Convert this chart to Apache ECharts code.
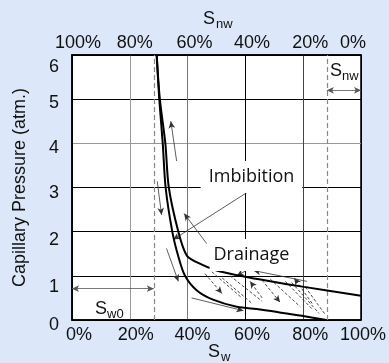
<!DOCTYPE html>
<html><head><meta charset="utf-8">
<script src="https://cdn.jsdelivr.net/npm/echarts@6/dist/echarts.min.js"></script>
<style>html,body{margin:0;padding:0;background:#dce8fa;}#c{width:389px;height:363px;}</style>
</head><body><div id="c"></div>
<script>
// ---- data ----
const swTicks = [0, 20, 40, 60, 80, 100];
const snwTicks = [100, 80, 60, 40, 20, 0];
const pcTicks = [0, 1, 2, 3, 4, 5, 6];
const drainageSw = [29.3, 30.4, 32.3, 33.5, 36.8, 39.7, 43.1, 50.1, 58.1, 68.6, 80.3, 100];
const drainagePc = [6, 5, 4, 3, 2, 1.46, 1.31, 1.12, 1.0, 0.875, 0.75, 0.55];
const imbibitionSw = [29.3, 30.2, 31.4, 32.4, 34.7, 36.7, 39.1, 43.1, 48.8, 57.0, 65.1, 79.0, 88.0];
const imbibitionPc = [6, 5, 4, 3, 2, 1.46, 1.0, 0.675, 0.46, 0.3, 0.24, 0.1, 0];
const swLimits = [28.3, 88.2];            // Sw0 (irreducible) and 1 - Snw
const sw0Arrow = [[0, 0.71], [28.3, 0.71]];
const snwArrow = [[88.2, 5.2], [100, 5.2]];
const pathArrows = [
  [[36.2, 3.6], [34.2, 4.5]],
  [[29.5, 3.14], [31.0, 2.38]],
  [[32.7, 1.62], [36.8, 0.875]],
  [[41.4, 0.5], [59.3, 0.21]],
  [[81.3, 0.875], [62.8, 1.12]]
];
const pointerArrows = [
  [[61.6, 2.93], [35.0, 1.82]],
  [[46.6, 1.73], [38.8, 2.41]],
  [[63.9, 1.25], [57.0, 1.0]]
];
const scanLines = [
  [[48.4, 1.09], [58.8, 0.5]],
  [[52.0, 0.95], [62.3, 0.375]],
  [[54.7, 1.0], [65.8, 0.425]],
  [[68.6, 0.925], [79.0, 0.3]],
  [[73.8, 0.875], [83.1, 0.25]],
  [[76.0, 0.85], [85.5, 0.15]],
  [[80.7, 0.75], [87.6, 0.125]]
];
const scanArrows = [
  [[46.0, 1.05], [51.9, 0.6]],
  [[65.8, 0.5], [61.6, 0.875]],
  [[65.8, 0.9], [72.0, 0.4]],
  [[83.1, 0.375], [76.9, 0.95]]
];
const labelImbibition = 'Imbibition';
const labelDrainage = 'Drainage';
const yTitle = 'Capillary Pressure (atm.)';

// ---- chart ----
const TF = '"Liberation Sans", Arial, sans-serif';
const pairs = (xs, ys) => xs.map((x, i) => [x, ys[i]]);
const segs = s => s.map(p => [{coord: p[0]}, {coord: p[1]}]);
function markSeries(segments, symbols, dashed, width, color) {
  return {
    type: 'line', data: [], silent: true, symbol: 'none', animation: false,
    markLine: {
      silent: true, animation: false, symbol: symbols, symbolSize: [5, 7],
      label: {show: false}, emphasis: {disabled: true},
      lineStyle: {color: color, width: width, type: dashed ? [3, 2] : 'solid'},
      data: segs(segments)
    }
  };
}
const botPad = {0: [0,0,0,14], 20: [0,0,0,12], 40: [0,0,0,10], 60: [0,0,0,13], 80: [0,0,0,14], 100: [0,0,0,4]};
const topPad = {100: [0,0,0,12], 80: [0,0,0,10], 60: [0,0,0,14], 40: [0,0,0,13], 20: [0,0,0,14], 0: [0,16,0,0]};
const yPad = {6: [24,0,0,0], 5: [8,0,0,0], 4: [10,0,0,0], 3: [11,0,0,0], 2: [16,0,0,0], 1: [22,0,0,0], 0: [10,0,0,0]};
const richOf = (ticks, pad) => {
  const r = {};
  ticks.forEach(t => { r['p' + t] = {fontFamily: TF, fontSize: 18, color: '#111', padding: pad[t]}; });
  return r;
};

const chart = echarts.init(document.getElementById('c'));
chart.setOption({
  animation: false,
  backgroundColor: '#dce8fa',
  grid: {left: 72, right: 28, top: 55, bottom: 43, show: true, backgroundColor: '#fff', borderColor: '#000', borderWidth: 1.5},
  xAxis: [{
    type: 'value', min: 0, max: 100, interval: 20, position: 'bottom',
    axisLine: {show: true, lineStyle: {color: '#000', width: 1.5}}, axisTick: {show: false},
    axisLabel: {margin: 6, showMinLabel: true, showMaxLabel: true,
      formatter: v => '{p' + v + '|' + v + '%}', rich: richOf(swTicks, botPad)},
    splitLine: {show: true, lineStyle: {color: ['#000', '#999', '#777', '#000', '#444', '#000'], width: 1}}
  }, {
    type: 'value', min: 0, max: 100, interval: 20, position: 'top', inverse: true,
    axisLine: {show: true, lineStyle: {color: '#000', width: 1.5}}, axisTick: {show: false},
    axisLabel: {margin: 3, showMinLabel: true, showMaxLabel: true,
      formatter: v => '{p' + v + '|' + v + '%}', rich: richOf(snwTicks, topPad)},
    splitLine: {show: false}
  }],
  yAxis: {
    type: 'value', min: 0, max: 6, interval: 1,
    name: yTitle, nameLocation: 'middle', nameGap: 43,
    nameTextStyle: {fontFamily: TF, fontSize: 18, color: '#111'},
    axisLine: {show: true, lineStyle: {color: '#000', width: 1.5}}, axisTick: {show: false},
    axisLabel: {margin: 13, formatter: v => '{p' + v + '|' + v + '}', rich: richOf(pcTicks, yPad)},
    splitLine: {show: true, lineStyle: {color: ['#000', '#000', '#000', '#000', '#999', '#000', '#000'], width: 1}}
  },
  series: [
    {type: 'line', name: 'Drainage', data: pairs(drainageSw, drainagePc), smooth: 0.3, symbol: 'none',
      lineStyle: {color: '#000', width: 2}, silent: true, z: 5},
    {type: 'line', name: 'Imbibition', data: pairs(imbibitionSw, imbibitionPc), smooth: 0.3, symbol: 'none',
      lineStyle: {color: '#000', width: 2}, silent: true, z: 5},
    {type: 'line', data: [], silent: true, symbol: 'none',
      markLine: {silent: true, animation: false, symbol: ['none', 'none'], label: {show: false},
        lineStyle: {color: '#888', width: 1.2, type: [5, 3]},
        data: swLimits.map(v => ({xAxis: v}))}},
    markSeries([sw0Arrow, snwArrow], ['arrow', 'arrow'], false, 0.8, '#555'),
    markSeries(pathArrows, ['none', 'arrow'], false, 0.8, '#333'),
    markSeries(pointerArrows, ['none', 'arrow'], false, 0.8, '#333'),
    markSeries(scanLines, ['none', 'none'], true, 0.9, '#333'),
    markSeries(scanArrows, ['none', 'arrow'], true, 0.9, '#333')
  ],
  graphic: [
    {type: 'text', x: 251.5, y: 177, z: 100, style: {text: labelImbibition, fontFamily: '"Open Sans", sans-serif', fontSize: 18, fill: '#111',
      backgroundColor: '#fff', padding: [7, 8], align: 'center', verticalAlign: 'middle'}},
    {type: 'text', x: 251.5, y: 255, z: 100, style: {text: labelDrainage, fontFamily: '"Open Sans", sans-serif', fontSize: 18, fill: '#111',
      backgroundColor: '#fff', padding: [7, 4], align: 'center', verticalAlign: 'middle'}},
    {type: 'text', x: 203, y: 19, style: {text: 'S', fontFamily: TF, fontSize: 18, fill: '#111', align: 'left', verticalAlign: 'middle'}},
    {type: 'text', x: 216, y: 24, style: {text: 'nw', fontFamily: TF, fontSize: 13, fill: '#111', align: 'left', verticalAlign: 'middle'}},
    {type: 'text', x: 208, y: 352, style: {text: 'S', fontFamily: TF, fontSize: 18, fill: '#111', align: 'left', verticalAlign: 'middle'}},
    {type: 'text', x: 221, y: 357, style: {text: 'w', fontFamily: TF, fontSize: 13, fill: '#111', align: 'left', verticalAlign: 'middle'}},
    {type: 'text', x: 95, y: 309, z: 100, style: {text: 'S', fontFamily: TF, fontSize: 18, fill: '#111', align: 'left', verticalAlign: 'middle'}},
    {type: 'text', x: 107, y: 314, z: 100, style: {text: 'w0', fontFamily: TF, fontSize: 13, fill: '#111', align: 'left', verticalAlign: 'middle'}},
    {type: 'text', x: 330, y: 71, z: 100, style: {text: 'S', fontFamily: TF, fontSize: 18, fill: '#111', align: 'left', verticalAlign: 'middle'}},
    {type: 'text', x: 342, y: 76, z: 100, style: {text: 'nw', fontFamily: TF, fontSize: 13, fill: '#111', align: 'left', verticalAlign: 'middle'}}
  ]
});
</script></body></html>
